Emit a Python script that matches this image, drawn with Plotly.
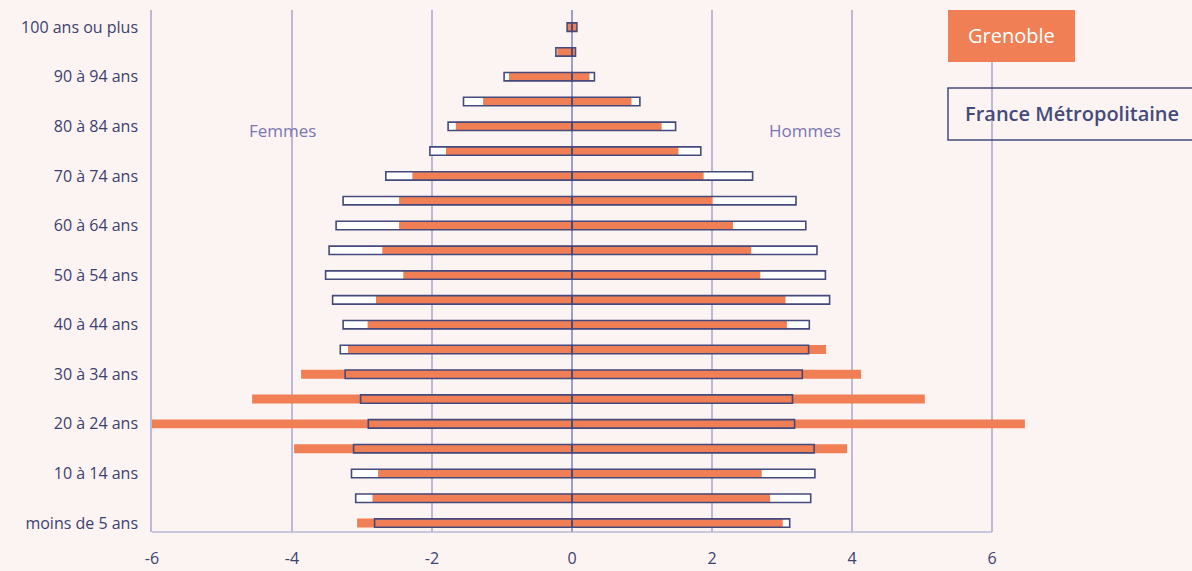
import plotly.graph_objects as go

categories = ["moins de 5 ans", "5 à 9 ans", "10 à 14 ans", "15 à 19 ans", "20 à 24 ans",
              "25 à 29 ans", "30 à 34 ans", "35 à 39 ans", "40 à 44 ans", "45 à 49 ans",
              "50 à 54 ans", "55 à 59 ans", "60 à 64 ans", "65 à 69 ans", "70 à 74 ans",
              "75 à 79 ans", "80 à 84 ans", "85 à 89 ans", "90 à 94 ans", "95 à 99 ans",
              "100 ans ou plus"]

grenoble_femmes = [3.07, 2.85, 2.77, 3.97, 6.01, 4.57, 3.87, 3.20, 2.92, 2.80, 2.41,
                   2.71, 2.47, 2.47, 2.28, 1.80, 1.66, 1.27, 0.90, 0.21, 0.06]
grenoble_hommes = [3.01, 2.83, 2.71, 3.93, 6.47, 5.04, 4.13, 3.63, 3.07, 3.05, 2.69,
                   2.56, 2.30, 2.01, 1.88, 1.52, 1.28, 0.85, 0.25, 0.04, 0.06]
france_femmes = [2.82, 3.09, 3.15, 3.12, 2.91, 3.02, 3.24, 3.31, 3.27, 3.42, 3.52,
                 3.47, 3.37, 3.27, 2.66, 2.03, 1.77, 1.55, 0.97, 0.23, 0.07]
france_hommes = [3.11, 3.41, 3.47, 3.46, 3.18, 3.15, 3.29, 3.38, 3.39, 3.68, 3.62,
                 3.50, 3.34, 3.20, 2.58, 1.84, 1.48, 0.97, 0.32, 0.05, 0.07]

x_ticks = [-6, -4, -2, 0, 2, 4, 6]
y_tick_labels = categories[::2]

ORANGE = "#f07f55"
NAVY = "#454a7c"
GRID = "#bcb8d6"
BG = "#fcf4f2"
FONT = "Open Sans"
TXT = "#3d4170"

neg = lambda vals: [-v for v in vals]

fig = go.Figure()
# France white fill (under)
for xs in (neg(france_femmes), france_hommes):
    fig.add_trace(go.Bar(y=categories, x=xs, orientation="h", width=0.34,
                         marker=dict(color="#ffffff", line=dict(width=0)),
                         showlegend=False, hoverinfo="skip"))
# Grenoble orange
for xs in (neg(grenoble_femmes), grenoble_hommes):
    fig.add_trace(go.Bar(y=categories, x=xs, orientation="h", width=0.36,
                         marker=dict(color=ORANGE, line=dict(width=0)),
                         name="Grenoble", showlegend=False))
# France outline (over)
for xs in (neg(france_femmes), france_hommes):
    fig.add_trace(go.Bar(y=categories, x=xs, orientation="h", width=0.34,
                         marker=dict(color="rgba(0,0,0,0)", line=dict(width=1.6, color=NAVY)),
                         name="France Métropolitaine", showlegend=False))

fig.update_layout(
    barmode="overlay",
    width=1192, height=571,
    margin=dict(l=152, r=158, t=10, b=39),
    paper_bgcolor=BG, plot_bgcolor=BG,
    font=dict(family=FONT, color=TXT, size=15),
    xaxis=dict(range=[-6, 6.6], tickvals=x_ticks, ticktext=[str(v) for v in x_ticks],
               showgrid=True, gridcolor=GRID, gridwidth=1.5,
               zeroline=True, zerolinecolor="#a09cc8", zerolinewidth=1.5,
               showline=False, automargin=False,
               ticks="", ticklabelstandoff=15,
               tickfont=dict(size=16, color=TXT, weight=500)),
    yaxis=dict(categoryorder="array", categoryarray=categories,
               range=[-0.36, 20.69], tickvals=y_tick_labels,
               showgrid=False, zeroline=False, automargin=False,
               showline=True, linecolor=GRID, linewidth=1.5,
               ticks="", ticklabelstandoff=9,
               tickfont=dict(size=16, color=TXT, weight=500)),
)

# bottom axis line ending at 6
fig.add_shape(type="line", xref="x", yref="paper", x0=-6, x1=6, y0=0, y1=0,
              line=dict(color=GRID, width=1.5), layer="below")

fig.add_annotation(x=-4.13, y=0.77, xref="x", yref="paper", text="Femmes",
                   xanchor="center", yanchor="middle",
                   showarrow=False, font=dict(size=17, color="#7b76b2", family=FONT))
fig.add_annotation(x=3.33, y=0.77, xref="x", yref="paper", text="Hommes",
                   xanchor="center", yanchor="middle",
                   showarrow=False, font=dict(size=17, color="#7b76b2", family=FONT))

# custom legend boxes (paper coords: plot spans 152..1034 px, 10..532 px)
fig.add_shape(type="rect", xref="paper", yref="paper", x0=0.9025, x1=1.0465, y0=0.9004, y1=1.0,
              fillcolor=ORANGE, line=dict(width=0), layer="above")
fig.add_annotation(xref="paper", yref="paper", x=0.9745, y=0.9502, text="Grenoble",
                   xanchor="center", yanchor="middle",
                   showarrow=False, font=dict(size=20, color="#ffffff", family=FONT, weight=500))
fig.add_shape(type="rect", xref="paper", yref="paper", x0=0.9025, x1=1.2, y0=0.751, y1=0.8506,
              fillcolor="rgba(0,0,0,0)", line=dict(width=1.5, color=NAVY), layer="above")
fig.add_annotation(xref="paper", yref="paper", x=0.9195, y=0.8008, text="France Métropolitaine",
                   xanchor="left", yanchor="middle", showarrow=False,
                   font=dict(size=20, color=NAVY, family=FONT, weight=600))

fig.write_html("out.html")
